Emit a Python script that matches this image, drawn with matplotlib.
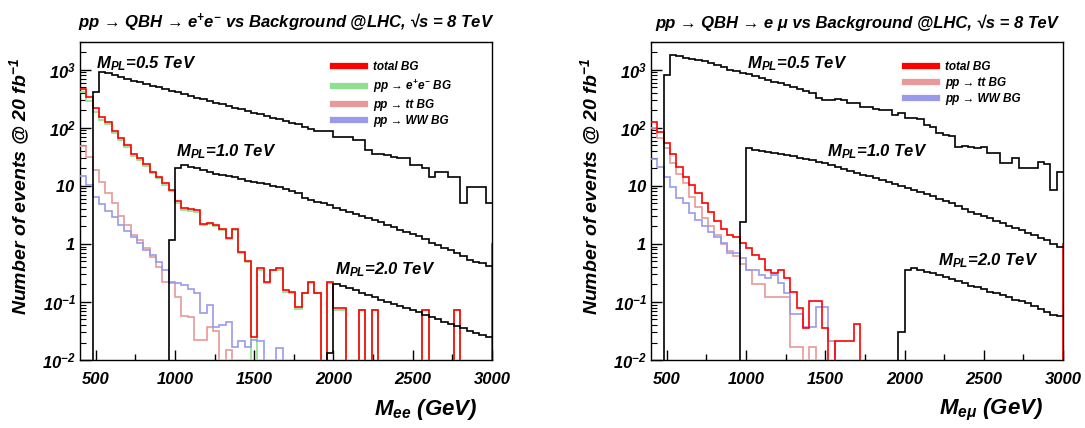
import numpy as np
import matplotlib
matplotlib.use('Agg')
import matplotlib.pyplot as plt
from matplotlib.lines import Line2D
from matplotlib.ticker import MultipleLocator, FixedLocator, FixedFormatter, LogLocator, NullFormatter

# binning of the invariant-mass histograms (GeV)
bin_lo, bin_hi, bin_width = 400, 3000, 40
edges = np.arange(bin_lo, bin_hi + 1, bin_width)

# ---- left panel: e+e- channel (events @ 20 fb^-1 per bin) ----
sig05_ee = [0, 0, 420, 900, 860, 800, 750, 700, 650, 610, 570, 530, 500,
            465, 435, 405, 380, 355, 330, 310, 290, 270, 255, 238, 222, 208,
            195, 182, 170, 160, 150, 140, 130, 122, 114, 102, 94, 89, 89,
            89, 70, 70, 68, 61, 61, 41, 36, 36, 34, 31.6, 29.8, 29.8,
            22.8, 22.8, 20, 14.4, 17.5, 17.5, 14.4, 14.4, 5.0, 9.7, 9.7, 9.7, 5.0]
sig10_ee = [0, 0, 0, 0, 0, 0, 0, 0, 0, 0, 0, 0, 0,
            0, 1.15, 20.5, 22.5, 21.5, 20, 18.5, 17.5, 16.2, 15.5, 14.8, 14.0, 13.2,
            12.3, 11.8, 11.2, 10.6, 9.9, 9.5, 8.8, 8.3, 7.5, 6.2, 5.8, 5.3, 5.0,
            4.6, 4.2, 3.9, 3.6, 3.3, 3.0, 2.8, 2.6, 2.35, 2.15, 1.95, 1.75, 1.6,
            1.48, 1.35, 1.2, 1.05, 0.95, 0.85, 0.78, 0.7, 0.62, 0.52, 0.48, 0.46, 0.42]
sig20_ee = [0, 0, 0, 0, 0, 0, 0, 0, 0, 0, 0, 0, 0,
            0, 0, 0, 0, 0, 0, 0, 0, 0, 0, 0, 0, 0,
            0, 0, 0, 0, 0, 0, 0, 0, 0, 0, 0, 0, 0,
            0.013, 0.2, 0.19, 0.175, 0.16, 0.145, 0.13, 0.12, 0.11, 0.1, 0.093, 0.086, 0.079,
            0.072, 0.066, 0.06, 0.056, 0.051, 0.046, 0.042, 0.038, 0.035, 0.032, 0.029, 0.027, 0.025]
bg_tot_ee = [460, 335, 216, 152, 126, 89, 66, 50.5, 36, 29.7, 23.8, 17.5, 14.4,
             11, 8.5, 5.5, 4.1, 4.0, 3.8, 2.2, 2.3, 2.1, 1.8, 1.26, 1.8, 0.73,
             0.51, 0.025, 0.38, 0.22, 0.36, 0.38, 0.16, 0.15, 0.083, 0.145, 0.22, 0.145, 0,
             0.22, 0.078, 0.078, 0, 0, 0.073, 0, 0.073, 0, 0, 0, 0, 0,
             0, 0, 0.073, 0, 0, 0, 0, 0.073, 0, 0, 0, 0, 0]
bg_ee_ee = [405, 294, 190, 135, 114, 81, 61, 47, 33, 27.5, 22, 16.5, 13.5,
            10.4, 8.0, 5.1, 3.8, 3.7, 3.6, 2.1, 2.2, 2.0, 1.75, 1.2, 1.75, 0.70,
            0.49, 0, 0.36, 0.21, 0.35, 0.36, 0.15, 0.14, 0.075, 0.14, 0.21, 0.14, 0,
            0.21, 0.072, 0.072, 0, 0, 0.073, 0, 0.073, 0, 0, 0, 0, 0,
            0, 0, 0.073, 0, 0, 0, 0, 0.073, 0, 0, 0, 0, 0]
bg_tt_ee = [49, 31, 19, 11.7, 7.4, 5.0, 3.0, 2.1, 1.45, 1.17, 0.85, 0.6, 0.40,
            0.22, 0.21, 0.12, 0.058, 0.055, 0.022, 0.022, 0.037, 0.031, 0, 0.015, 0, 0,
            0, 0, 0, 0, 0, 0, 0, 0, 0, 0, 0, 0, 0,
            0, 0, 0, 0, 0, 0, 0, 0, 0, 0, 0, 0, 0,
            0, 0, 0, 0, 0, 0, 0, 0, 0, 0, 0, 0, 0]
bg_ww_ee = [14.5, 10.3, 6.4, 4.9, 3.7, 2.9, 2.1, 1.67, 1.3, 1.03, 0.78, 0.64, 0.49,
            0.36, 0.22, 0.21, 0.195, 0.17, 0.14, 0.064, 0.089, 0.037, 0.04, 0.046, 0.017, 0.021,
            0.017, 0.022, 0.021, 0, 0, 0.016, 0, 0, 0, 0, 0, 0, 0,
            0, 0, 0, 0, 0, 0, 0, 0, 0, 0, 0, 0, 0,
            0, 0, 0, 0, 0, 0, 0, 0, 0, 0, 0, 0, 0]
ovf_tot_ee = 1.0

# ---- right panel: e mu channel ----
sig05_em = [0, 0, 820, 1790, 1700, 1620, 1540, 1460, 1390, 1300, 1200, 1120, 1000,
            940, 880, 850, 780, 720, 670, 620, 590, 540, 500, 470, 430, 390,
            330, 300, 305, 310, 300, 265, 265, 230, 230, 210, 203, 200, 166,
            178, 145, 145, 140, 110, 104, 80, 75, 73, 47, 48, 47, 44,
            46, 37, 37, 24.5, 24.5, 29.6, 20, 20, 20, 26, 24, 8.5, 17.5]
sig10_em = [0, 0, 0, 0, 0, 0, 0, 0, 0, 0, 0, 0, 0,
            0, 2.4, 44, 42, 40, 38.5, 37, 35, 33.5, 32, 30.5, 29, 28,
            26, 24.5, 23, 21, 19.5, 18, 16.8, 15.5, 14.5, 13.5, 12.5, 11.6, 10.8,
            10, 9.2, 8.5, 7.8, 7.2, 6.6, 6.0, 5.5, 5.0, 4.5, 4.0, 3.6, 3.3,
            3.0, 2.75, 2.5, 2.25, 2.05, 1.85, 1.7, 1.55, 1.4, 1.27, 1.15, 1.0, 0.9]
sig20_em = [0, 0, 0, 0, 0, 0, 0, 0, 0, 0, 0, 0, 0,
            0, 0, 0, 0, 0, 0, 0, 0, 0, 0, 0, 0, 0,
            0, 0, 0, 0, 0, 0, 0, 0, 0, 0, 0, 0, 0,
            0.03, 0.36, 0.38, 0.36, 0.33, 0.31, 0.29, 0.27, 0.25, 0.23, 0.21, 0.19, 0.18,
            0.165, 0.15, 0.14, 0.13, 0.12, 0.11, 0.105, 0.095, 0.085, 0.075, 0.066, 0.06, 0.058]
bg_tot_em = [126, 85, 54, 36, 21.5, 14.4, 10.3, 7.4, 5.0, 3.6, 2.5, 1.8, 1.42,
             1.30, 1.02, 0.84, 0.64, 0.54, 0.355, 0.31, 0.355, 0.26, 0.15, 0.078, 0.035, 0.105,
             0.105, 0.035, 0, 0.021, 0.021, 0.021, 0.041, 0, 0, 0, 0, 0, 0,
             0, 0, 0, 0, 0, 0, 0, 0, 0, 0, 0, 0, 0,
             0, 0, 0, 0, 0, 0, 0, 0, 0, 0, 0, 0, 0]
bg_tt_em = [100, 66, 44, 25, 16, 11, 6.5, 4.4, 2.8, 2.0, 1.4, 1.0, 0.75,
            0.62, 0.45, 0.36, 0.2, 0.2, 0.12, 0.12, 0.12, 0.12, 0.017, 0.017, 0, 0.017,
            0, 0, 0, 0, 0, 0, 0, 0, 0, 0, 0, 0, 0,
            0, 0, 0, 0, 0, 0, 0, 0, 0, 0, 0, 0, 0,
            0, 0, 0, 0, 0, 0, 0, 0, 0, 0, 0, 0, 0]
bg_ww_em = [29.5, 21.5, 14.4, 9.7, 6.1, 5.0, 3.4, 2.6, 2.0, 1.62, 1.33, 1.02, 0.69,
            0.69, 0.56, 0.355, 0.355, 0.29, 0.26, 0.29, 0.21, 0.14, 0.063, 0.063, 0.037, 0.037,
            0.083, 0.083, 0.021, 0, 0, 0, 0, 0, 0, 0, 0, 0, 0,
            0, 0, 0, 0, 0, 0, 0, 0, 0, 0, 0, 0, 0,
            0, 0, 0, 0, 0, 0, 0, 0, 0, 0, 0, 0, 0]
ovf_tot_em = 1.0

ytick_vals = [1e-2, 1e-1, 1, 10, 1e2, 1e3]
ytick_labels = ['$10^{-2}$', '$10^{-1}$', r'$1\quad$', r'$10\quad$', '$10^{2}$', '$10^{3}$']

RED = '#ff0000'
GREEN = '#8ee08e'
PINK = '#e89a9a'
BLUE = '#9a9aec'

plt.rcParams['font.family'] = ['Liberation Sans', 'DejaVu Sans']
plt.rcParams['font.weight'] = 'bold'
plt.rcParams['font.style'] = 'italic'
plt.rcParams['axes.titleweight'] = 'bold'
plt.rcParams['axes.labelweight'] = 'bold'
plt.rcParams['mathtext.fontset'] = 'custom'
plt.rcParams['mathtext.rm'] = 'Liberation Sans:bold:italic'
plt.rcParams['mathtext.it'] = 'Liberation Sans:bold:italic'
plt.rcParams['mathtext.bf'] = 'Liberation Sans:bold:italic'


def draw_hist(ax, values, color, lw=1.2, overflow=None, zorder=3):
    v = np.asarray(values, dtype=float)
    e = edges
    if overflow is not None:
        # overflow is drawn as one extra bin just past the axis end
        v = np.append(v, overflow)
        e = np.append(edges, edges[-1] + bin_width)
    v = np.where(v > 0, v, 1e-6)
    ax.stairs(v, e, color=color, lw=lw, baseline=None, zorder=zorder)


def style_axes(ax):
    ax.set_yscale('log')
    ax.set_xlim(bin_lo, bin_hi)
    ax.set_ylim(0.01, 3000)
    ax.xaxis.set_major_locator(MultipleLocator(500))
    ax.xaxis.set_minor_locator(MultipleLocator(250))
    ax.yaxis.set_major_locator(FixedLocator(ytick_vals))
    ax.yaxis.set_major_formatter(FixedFormatter(ytick_labels))
    ax.yaxis.set_minor_locator(LogLocator(base=10, subs=np.arange(2, 10)))
    ax.yaxis.set_minor_formatter(NullFormatter())
    ax.tick_params(axis='both', which='both', direction='in', top=False, right=False)
    ax.tick_params(axis='x', which='major', length=7, width=1, pad=9, labelsize=12)
    ax.tick_params(axis='x', which='minor', length=4, width=1)
    ax.tick_params(axis='y', which='major', length=8, width=1, pad=3, labelsize=12)
    ax.tick_params(axis='y', which='minor', length=4, width=0.8)
    for s in ax.spines.values():
        s.set_linewidth(1.0)
    ax.set_ylabel('Number of events @ 20 fb$^{-1}$', fontsize=14, fontweight='bold')
    ax.yaxis.set_label_coords(-0.117, 0.545)


fig = plt.figure(figsize=(10.85, 4.28), dpi=100)
ax1 = fig.add_axes([0.0737, 0.1589, 0.3797, 0.743])
ax2 = fig.add_axes([0.600, 0.1589, 0.3797, 0.743])

# left: e+e-
draw_hist(ax1, bg_ee_ee, GREEN)
draw_hist(ax1, bg_tt_ee, PINK)
draw_hist(ax1, bg_ww_ee, BLUE)
draw_hist(ax1, bg_tot_ee, RED, overflow=ovf_tot_ee)
draw_hist(ax1, sig05_ee, 'black')
draw_hist(ax1, sig10_ee, 'black')
draw_hist(ax1, sig20_ee, 'black')
style_axes(ax1)
ax1.set_title('pp → QBH → e$^{+}$e$^{-}$ vs Background @LHC, √s = 8 TeV',
              fontsize=12, fontweight='bold', pad=10)
ax1.set_xlabel('M$_{ee}$ (GeV)', fontsize=16, fontweight='bold', loc='right')
ax1.xaxis.set_label_coords(0.965, -0.115)
ax1.text(501, 1057, 'M$_{PL}$=0.5 TeV', fontsize=12)
ax1.text(1006, 31.9, 'M$_{PL}$=1.0 TeV', fontsize=12)
ax1.text(2009, 0.30, 'M$_{PL}$=2.0 TeV', fontsize=12)
h1 = [Line2D([], [], color=RED, lw=4.5), Line2D([], [], color=GREEN, lw=4.5),
      Line2D([], [], color=PINK, lw=4.5), Line2D([], [], color=BLUE, lw=4.5)]
ax1.legend(h1, ['total BG', 'pp → e$^{+}$e$^{-}$ BG', 'pp → tt BG', 'pp → WW BG'],
           loc='upper left', bbox_to_anchor=(0.614, 0.94), frameon=False, fontsize=8.5,
           handlelength=2.7, handletextpad=0.7, labelspacing=0.35, borderpad=0, borderaxespad=0)

# right: e mu
draw_hist(ax2, bg_tt_em, PINK)
draw_hist(ax2, bg_ww_em, BLUE)
draw_hist(ax2, bg_tot_em, RED, overflow=ovf_tot_em)
draw_hist(ax2, sig05_em, 'black')
draw_hist(ax2, sig10_em, 'black')
draw_hist(ax2, sig20_em, 'black')
style_axes(ax2)
ax2.set_title('pp → QBH → e μ vs Background @LHC, √s = 8 TeV',
              fontsize=12, fontweight='bold', pad=10)
ax2.set_xlabel(r'M$_{e\mu}$ (GeV)', fontsize=16, fontweight='bold', loc='right')
ax2.xaxis.set_label_coords(0.951, -0.115)
ax2.text(1008, 1057, 'M$_{PL}$=0.5 TeV', fontsize=12)
ax2.text(1509, 31.9, 'M$_{PL}$=1.0 TeV', fontsize=12)
ax2.text(2213, 0.43, 'M$_{PL}$=2.0 TeV', fontsize=12)
h2 = [Line2D([], [], color=RED, lw=4.5), Line2D([], [], color=PINK, lw=4.5),
      Line2D([], [], color=BLUE, lw=4.5)]
ax2.legend(h2, ['total BG', 'pp → tt BG', 'pp → WW BG'],
           loc='upper left', bbox_to_anchor=(0.617, 0.94), frameon=False, fontsize=8.5,
           handlelength=2.7, handletextpad=0.7, labelspacing=0.35, borderpad=0, borderaxespad=0)

fig.savefig('out.png', dpi=100)
